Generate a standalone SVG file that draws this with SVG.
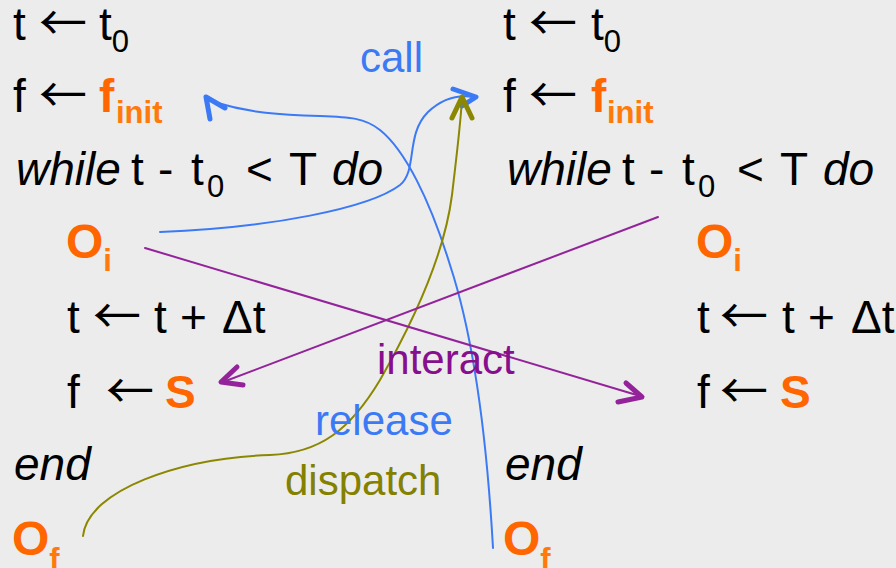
<svg xmlns="http://www.w3.org/2000/svg" width="896" height="568" viewBox="0 0 896 568">
<style>
text{font-family:"Liberation Sans",Arial,Helvetica,sans-serif;font-size:46px;fill:#000}
.arr{font-family:"Noto Sans CJK SC","Liberation Sans",sans-serif;font-size:48px}
.sub{font-size:31px}
.b{font-weight:bold}
.o{fill:#FF6600}
.o2{fill:#FF7A0A}
.big{font-size:48px}
.i{font-style:italic}
.lbl{font-size:42px}
.blue{fill:#3C7AF5}
.purple{fill:#870E8C}
.olive{fill:#848000}
.cb{stroke:#3C7AF5}
.cp{stroke:#94239B}
.co{stroke:#8C8700}
.ln{fill:none;stroke-width:2;stroke-linecap:round}
.ah{fill:none;stroke-width:5;stroke-linecap:round;stroke-linejoin:round}
</style>
<rect width="896" height="568" fill="#ECECEC"/>

<g id="left-program">
  <g id="L1"><text y="40"><tspan x="13">t</tspan><tspan x="39" class="arr">←</tspan><tspan x="99">t</tspan><tspan class="sub" dy="12">0</tspan></text></g>
  <g id="L2"><text y="112"><tspan x="13">f</tspan><tspan x="39" class="arr">←</tspan><tspan x="99" class="o b">f</tspan><tspan x="116" class="o2 b sub" dy="11">init</tspan></text></g>
  <g id="L3"><text y="185"><tspan x="16" class="i">while</tspan><tspan x="131">t</tspan><tspan x="158">-</tspan><tspan x="191">t</tspan><tspan x="207" class="sub" dy="12">0</tspan><tspan x="246" dy="-12">&lt;</tspan><tspan x="289">T</tspan><tspan x="332" class="i">do</tspan></text></g>
  <g id="L4"><text x="66" y="258" class="o b big">O<tspan class="sub o2" dy="13">i</tspan></text></g>
  <g id="L5"><text y="333"><tspan x="67">t</tspan><tspan x="93" class="arr">←</tspan><tspan x="154">t</tspan><tspan x="180">+</tspan><tspan x="222">Δt</tspan></text></g>
  <g id="L6"><text y="408"><tspan x="67">f</tspan><tspan x="106" class="arr">←</tspan><tspan x="165" class="o b">S</tspan></text></g>
  <g id="L7"><text x="14" y="480" class="i">end</text></g>
  <g id="L8"><text x="12" y="555" class="o b big">O<tspan class="sub o2" dy="15">f</tspan></text></g>
</g>

<g id="right-program">
  <g id="R1"><text y="40"><tspan x="503">t</tspan><tspan x="529" class="arr">←</tspan><tspan x="591">t</tspan><tspan class="sub" dy="12">0</tspan></text></g>
  <g id="R2"><text y="112"><tspan x="503">f</tspan><tspan x="529" class="arr">←</tspan><tspan x="591" class="o b">f</tspan><tspan x="607" class="o2 b sub" dy="11">init</tspan></text></g>
  <g id="R3"><text y="185"><tspan x="507" class="i">while</tspan><tspan x="622">t</tspan><tspan x="649">-</tspan><tspan x="682">t</tspan><tspan x="698" class="sub" dy="12">0</tspan><tspan x="737" dy="-12">&lt;</tspan><tspan x="780">T</tspan><tspan x="823" class="i">do</tspan></text></g>
  <g id="R4"><text x="696" y="258" class="o b big">O<tspan class="sub o2" dy="13">i</tspan></text></g>
  <g id="R5"><text y="333"><tspan x="697">t</tspan><tspan x="720" class="arr">←</tspan><tspan x="782">t</tspan><tspan x="808">+</tspan><tspan x="851">Δt</tspan></text></g>
  <g id="R6"><text y="408"><tspan x="697">f</tspan><tspan x="720" class="arr">←</tspan><tspan x="780" class="o b">S</tspan></text></g>
  <g id="R7"><text x="505" y="480" class="i">end</text></g>
  <g id="R8"><text x="503" y="555" class="o b big">O<tspan class="sub o2" dy="15">f</tspan></text></g>
</g>

<g id="connectors">
  <!-- call -->
  <path class="ln cb" d="M160,232 C270,228 370,208 400,185 C418,170 405,135 428,112 C445,96 462,95 474,97"/>
  <path class="ah cb" d="M453,89 L476,97 L462,106"/>
  <!-- release -->
  <path class="ln cb" d="M493,548 C488,460 478,350 450,265 C430,200 405,150 380,130 C365,118 350,117 320,116 C280,115 250,113 214,102"/>
  <path class="ah cb" d="M210,119 L206,97 L225,108"/>
  <!-- dispatch -->
  <path class="ln co" d="M83,536 C88,490 180,458 270,455 C320,453 350,430 380,380 C420,310 445,250 452,195 C456,160 460,130 462,99"/>
  <path class="ah co" d="M452,118 L462,97 L472,118"/>
  <!-- interact -->
  <path class="ln cp" d="M145,248 L640,396"/>
  <path class="ah cp" d="M626,383 L642,397 L618,402"/>
  <path class="ln cp" d="M658,217 L223,382"/>
  <path class="ah cp" d="M237,367 L221,382 L243,385"/>
  <!-- labels -->
  <text class="lbl blue" x="360" y="72">call</text>
  <text class="lbl purple" x="377" y="374">interact</text>
  <text class="lbl blue" x="315" y="435">release</text>
  <text class="lbl olive" x="285" y="495">dispatch</text>
</g>
</svg>
